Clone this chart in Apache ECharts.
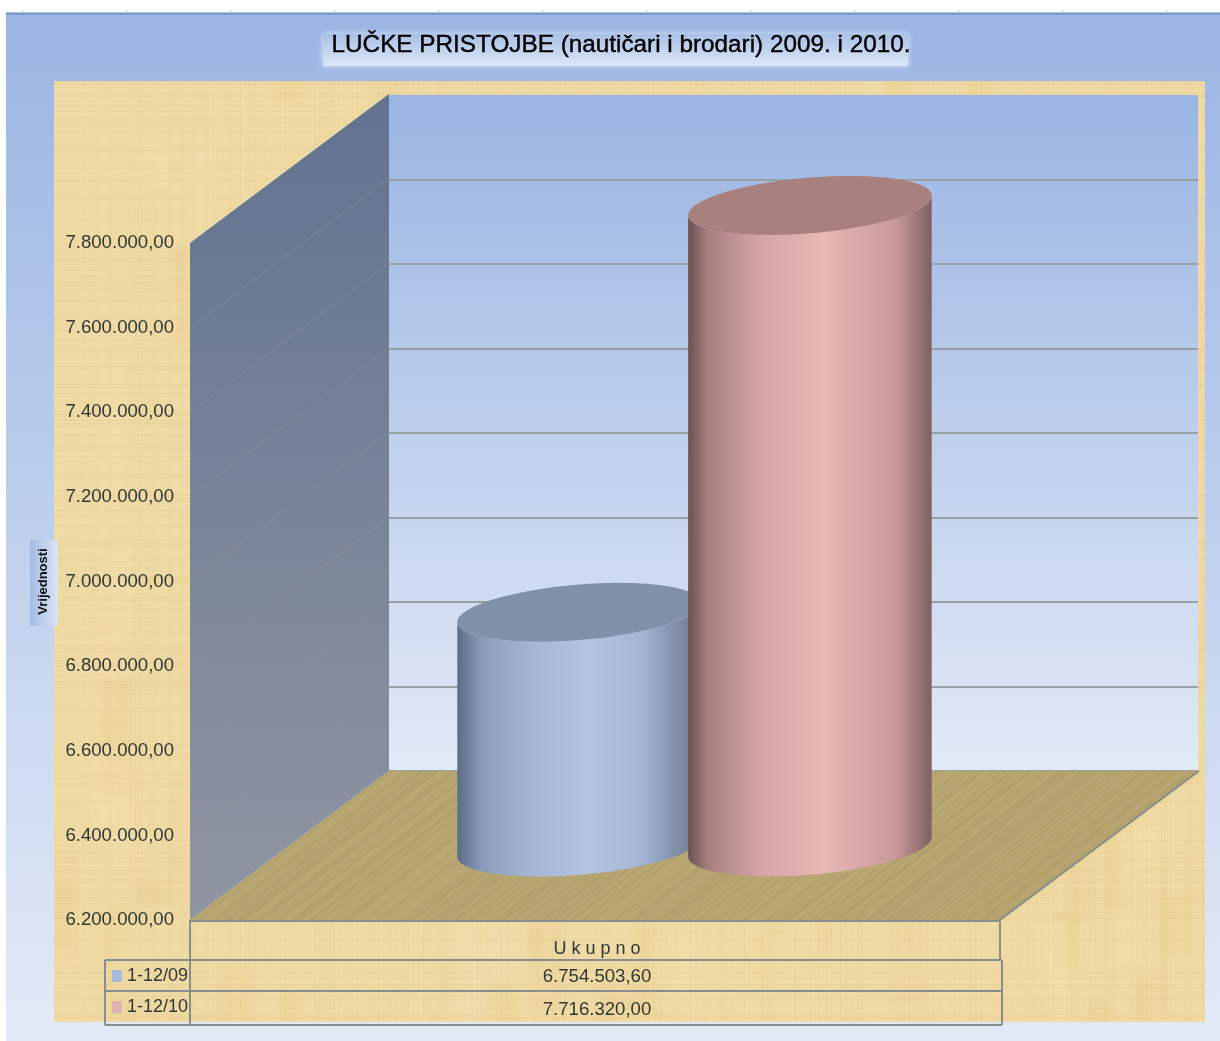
<!DOCTYPE html>
<html>
<head>
<meta charset="utf-8">
<style>
html, body { margin: 0; padding: 0; background: #fff; }
#main { width: 1220px; height: 1041px; filter: blur(0.6px); }
</style>
<script src="https://cdn.jsdelivr.net/npm/echarts@6/dist/echarts.min.js"></script>
</head>
<body>
<div id="main"></div>
<script>
var titleText = 'LUČKE PRISTOJBE (nautičari i brodari) 2009. i 2010.';
var axisName = 'Vrijednosti';
var categories = ['Ukupno'];
var seriesNames = ['1-12/09', '1-12/10'];
var values0910 = [6754503.60, 7716320.00];
var tickValues = [6200000, 6400000, 6600000, 6800000, 7000000, 7200000, 7400000, 7600000, 7800000];

var FONT = '"Liberation Sans", Arial, sans-serif';
var DEPTH_X = 199, DEPTH_Y = 149;

// 7800000 -> 7.800.000,00
function fmt(v) {
    var s = v.toFixed(2).split('.');
    return s[0].replace(/\B(?=(\d{3})+$)/g, '.') + ',' + s[1];
}

// deterministic fibre noise, textures only
function hash(n) {
    var x = Math.sin(n * 12.9898) * 43758.5453;
    return x - Math.floor(x);
}

function papyrus(w, h) {
    var c = document.createElement('canvas');
    c.width = w; c.height = h;
    var g = c.getContext('2d');
    g.fillStyle = '#efd9a2';
    g.fillRect(0, 0, w, h);
    var i;
    // soft patches first, weave on top
    for (i = 0; i < 220; i++) {
        g.fillStyle = (hash(i + 600) > 0.45 ? 'rgba(228,203,125,' : 'rgba(248,230,190,') + (0.06 + hash(i + 90) * 0.12) + ')';
        g.fillRect(hash(i + 100) * w, hash(i + 200) * h, 8 + hash(i + 300) * 30, 30 + hash(i + 400) * 120);
    }
    for (i = 0; i < w; i += 3) {
        g.fillStyle = (hash(i) > 0.5 ? 'rgba(205,178,110,' : 'rgba(252,238,205,') + (hash(i + 7) * 0.16) + ')';
        g.fillRect(i, 0, 1, h);
    }
    for (i = 0; i < h; i += 3) {
        g.fillStyle = (hash(i + 50) > 0.5 ? 'rgba(200,172,105,' : 'rgba(252,238,205,') + (hash(i + 57) * 0.16) + ')';
        g.fillRect(0, i, w, 1);
    }
    return c;
}

function floorTexture(w, h) {
    var c = document.createElement('canvas');
    c.width = w; c.height = h;
    var g = c.getContext('2d');
    g.fillStyle = '#b7a571';
    g.fillRect(0, 0, w, h);
    g.lineWidth = 2;
    for (var i = -h * 2; i < w; i += 3) {
        g.strokeStyle = (hash(i + 500) > 0.5 ? 'rgba(198,180,124,' : 'rgba(165,146,94,') + (hash(i + 507) * 0.3) + ')';
        g.beginPath();
        g.moveTo(i, h);
        g.lineTo(i + h * 1.3, 0);
        g.stroke();
    }
    return c;
}

function renderWalls(params, api) {
    var rect = params.coordSys;
    var x0 = rect.x, x1 = rect.x + rect.width;
    var yBase = api.coord([0, tickValues[0]])[1];
    var yTop = api.coord([0, tickValues[tickValues.length - 1]])[1];
    var children = [{
        type: 'polygon',
        shape: { points: [[x0, yTop], [x0 + DEPTH_X, yTop - DEPTH_Y], [x0 + DEPTH_X, yBase - DEPTH_Y], [x0, yBase]] },
        style: { fill: new echarts.graphic.LinearGradient(0, 0, 0, 1, [
            { offset: 0, color: '#62728f' },
            { offset: 1, color: '#8f96a2' }
        ]) }
    }, {
        type: 'polygon',
        shape: { points: [[x0, yBase], [x1, yBase], [x1 + DEPTH_X, yBase - DEPTH_Y], [x0 + DEPTH_X, yBase - DEPTH_Y]] },
        style: { fill: { image: floorTexture(1220, 1041), repeat: 'no-repeat' } }
    }, {
        type: 'line',
        shape: { x1: x1, y1: yBase, x2: x1 + DEPTH_X, y2: yBase - DEPTH_Y },
        style: { stroke: '#8d8f8c', lineWidth: 2 }
    }];
    tickValues.slice(1, -1).forEach(function (t) {
        var y = api.coord([0, t])[1];
        children.push({
            type: 'line',
            shape: { x1: x0, y1: y, x2: x0 + DEPTH_X, y2: y - DEPTH_Y },
            style: { stroke: 'rgba(150,150,140,0.4)', lineWidth: 1 }
        });
    });
    return { type: 'group', children: children };
}

function arc(cx, cy, A, B, C, t0, t1, n) {
    var pts = [];
    for (var i = 0; i <= n; i++) {
        var t = t0 + (t1 - t0) * i / n;
        pts.push([cx + A * Math.cos(t) + B * Math.sin(t), cy - C * Math.sin(t)]);
    }
    return pts;
}

function cylinder(slot, stops, topColor) {
    return function (params, api) {
        var base = api.coord([api.value(0), tickValues[0]]);
        var top = api.coord([api.value(0), api.value(1)]);
        var band = api.size([1, 0])[0];
        var cx = base[0] + DEPTH_X * 0.5 + slot * band * 0.285;
        var dy = DEPTH_Y * 0.49;
        var A = 115, B = 40, C = 29.5;
        var t0 = Math.atan2(B, A);
        var body = arc(cx, base[1] - dy, A, B, C, t0, t0 - Math.PI, 48)
            .concat(arc(cx, top[1] - dy, A, B, C, t0 - Math.PI, t0, 48));
        return {
            type: 'group',
            children: [{
                type: 'polygon',
                shape: { points: body },
                style: { fill: new echarts.graphic.LinearGradient(0, 0, 1, 0, stops) }
            }, {
                type: 'polygon',
                shape: { points: arc(cx, top[1] - dy, A, B, C, 0, Math.PI * 2, 96) },
                style: { fill: topColor }
            }]
        };
    };
}

var blueStops = [
    { offset: 0, color: '#5d6c85' },
    { offset: 0.1, color: '#8b9bb7' },
    { offset: 0.3, color: '#a5b6d4' },
    { offset: 0.54, color: '#b3c4e2' },
    { offset: 0.75, color: '#a6b7d6' },
    { offset: 0.95, color: '#748299' },
    { offset: 1, color: '#6a7890' }
];
var redStops = [
    { offset: 0, color: '#6b5050' },
    { offset: 0.08, color: '#a67f7f' },
    { offset: 0.28, color: '#d3a3a3' },
    { offset: 0.55, color: '#eab6b6' },
    { offset: 0.85, color: '#c99a9a' },
    { offset: 1, color: '#7f6060' }
];

var tableLines = [
    [190, 921, 1000, 921], [190, 920, 190, 959], [1000, 921, 1000, 959],
    [105, 960, 1002, 960], [105, 991, 1002, 991], [105, 1025, 1002, 1025],
    [105, 960, 105, 1025], [190, 960, 190, 1025], [1002, 960, 1002, 1025]
];

var chart = echarts.init(document.getElementById('main'), null, { renderer: 'canvas' });

var graphics = [{
    type: 'rect',
    z: -5,
    shape: { x: 6, y: 13, width: 1214, height: 1028 },
    style: { fill: new echarts.graphic.LinearGradient(0, 0, 0, 1, [
        { offset: 0, color: '#9ab5e3' },
        { offset: 1, color: '#e3eaf7' }
    ]) }
}, {
    type: 'line',
    z: -4,
    shape: { x1: 6, y1: 13.5, x2: 1220, y2: 13.5 },
    style: { stroke: '#6d8fc4', lineWidth: 2 }
}, {
    type: 'rect',
    z: -4,
    shape: { x: 54, y: 81, width: 1151, height: 941 },
    style: { fill: { image: papyrus(1220, 1041), repeat: 'no-repeat' } }
}, {
    type: 'rect',
    z: -3,
    shape: { x: 323, y: 34, width: 585, height: 32 },
    style: {
        fill: new echarts.graphic.LinearGradient(0, 0, 0, 1, [
            { offset: 0, color: '#a9c0e6' },
            { offset: 1, color: '#dde7f6' }
        ]),
        shadowBlur: 6,
        shadowColor: '#dfe8f6'
    }
}, {
    type: 'rect',
    z: -3,
    shape: { x: 30, y: 540, width: 28, height: 86 },
    style: { fill: new echarts.graphic.LinearGradient(0, 0, 1, 0, [
        { offset: 0, color: '#a3bbe3' },
        { offset: 1, color: '#dbe5f5' }
    ]) }
}];
for (var tx = 23; tx < 1220; tx += 104) {
    graphics.push({
        type: 'line',
        z: -4,
        shape: { x1: tx, y1: 10, x2: tx, y2: 13 },
        style: { stroke: '#c9c9c9', lineWidth: 1 }
    });
}
tableLines.forEach(function (l) {
    graphics.push({
        type: 'line',
        z: 20,
        shape: { x1: l[0], y1: l[1], x2: l[2], y2: l[3] },
        style: { stroke: '#8a8d8d', lineWidth: 2 }
    });
});
values0910.forEach(function (v, i) {
    graphics.push({
        type: 'text',
        z: 21,
        x: 597,
        y: 977 + i * 33,
        style: {
            text: fmt(v),
            font: '18.6px ' + FONT,
            fill: '#2f3838',
            align: 'center',
            verticalAlign: 'middle'
        }
    });
});

chart.setOption({
    animation: false,
    backgroundColor: '#fff',
    title: {
        text: titleText,
        left: 616,
        top: 28,
        textAlign: 'center',
        textStyle: {
            fontFamily: FONT,
            fontSize: 24.3,
            fontWeight: 'normal',
            color: '#000',
            textBorderColor: '#000',
            textBorderWidth: 0.4
        },
        z: 30
    },
    legend: {
        orient: 'vertical',
        left: 107,
        top: 962,
        itemWidth: 10,
        itemHeight: 12,
        itemGap: 13,
        icon: 'rect',
        data: seriesNames,
        textStyle: { fontFamily: FONT, fontSize: 18, color: '#2f3838' },
        z: 30
    },
    grid: [{
        left: 389, top: 95, right: 22, bottom: 270,
        show: true,
        borderWidth: 0,
        backgroundColor: new echarts.graphic.LinearGradient(0, 0, 0, 1, [
            { offset: 0, color: '#9ab5e3' },
            { offset: 1, color: '#e2e9f6' }
        ])
    }, {
        left: 190, top: 243, width: 810, bottom: 121
    }],
    xAxis: [{
        gridIndex: 0,
        type: 'category',
        data: categories,
        show: false
    }, {
        gridIndex: 1,
        type: 'category',
        data: categories,
        axisLine: { show: false },
        axisTick: { show: false },
        axisLabel: {
            margin: 20,
            padding: [0, 0, 0, 4],
            fontFamily: FONT,
            fontSize: 18,
            color: '#2f3838',
            formatter: function (v) { return v.split('').join(' '); }
        },
        z: 25
    }],
    yAxis: [{
        gridIndex: 0,
        type: 'value',
        min: tickValues[0],
        max: tickValues[tickValues.length - 1],
        interval: 200000,
        axisLine: { show: false },
        axisTick: { show: false },
        axisLabel: { show: false },
        splitLine: { show: true, showMaxLine: false, lineStyle: { color: '#9a9fa4', width: 2 } }
    }, {
        gridIndex: 1,
        type: 'value',
        min: tickValues[0],
        max: tickValues[tickValues.length - 1],
        interval: 200000,
        name: axisName,
        nameLocation: 'middle',
        nameRotate: 90,
        nameGap: 140,
        nameTextStyle: { fontFamily: FONT, fontSize: 13, fontWeight: 'bold', color: '#111' },
        axisLine: { show: false },
        axisTick: { show: false },
        splitLine: { show: false },
        axisLabel: {
            margin: 16,
            padding: [4, 0, 0, 0],
            fontFamily: FONT,
            fontSize: 18.6,
            color: '#2f3838',
            formatter: fmt
        },
        z: 25
    }],
    graphic: { elements: graphics },
    series: [{
        name: 'walls',
        type: 'custom',
        xAxisIndex: 1,
        yAxisIndex: 1,
        z: 1,
        clip: false,
        silent: true,
        renderItem: renderWalls,
        data: [[0, tickValues[0]]]
    }, {
        name: seriesNames[0],
        type: 'custom',
        xAxisIndex: 1,
        yAxisIndex: 1,
        z: 3,
        clip: false,
        itemStyle: { color: '#a9bbdc' },
        renderItem: cylinder(-0.5, blueStops, '#8291aa'),
        encode: { x: 0, y: 1 },
        data: [[0, values0910[0]]]
    }, {
        name: seriesNames[1],
        type: 'custom',
        xAxisIndex: 1,
        yAxisIndex: 1,
        z: 4,
        clip: false,
        itemStyle: { color: '#e2b3b3' },
        renderItem: cylinder(0.5, redStops, '#a8807d'),
        encode: { x: 0, y: 1 },
        data: [[0, values0910[1]]]
    }]
});
</script>
</body>
</html>
